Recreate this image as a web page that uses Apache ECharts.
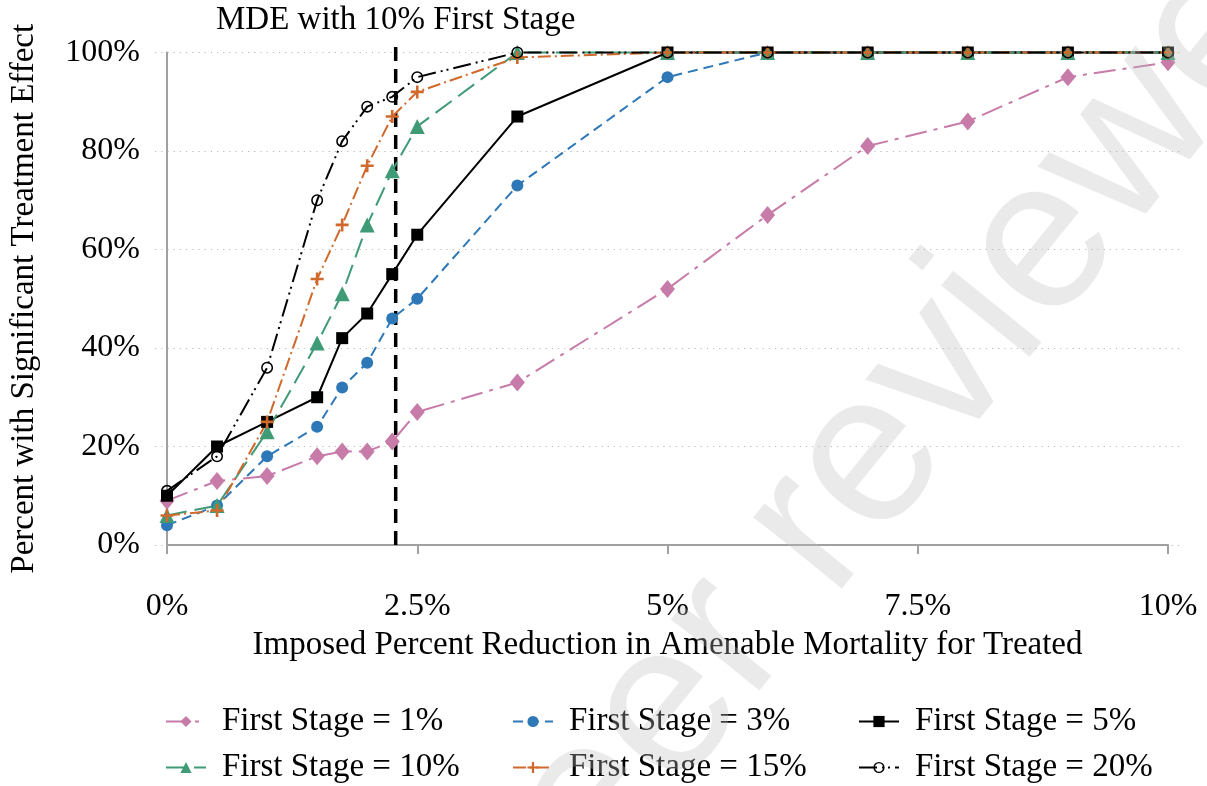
<!DOCTYPE html>
<html>
<head>
<meta charset="utf-8">
<script src="https://cdn.jsdelivr.net/npm/echarts@6/dist/echarts.min.js"></script>
<style>
  html, body { margin: 0; padding: 0; background: #fff; }
  #chart { width: 1207px; height: 786px; }
</style>
</head>
<body>
<div id="chart"></div>
<script>
// Imposed percent reduction in amenable mortality (x values, %)
const reductions = [0, 0.5, 1, 1.5, 1.75, 2, 2.25, 2.5, 3.5, 5, 6, 7, 8, 9, 10];

// Percent of simulations with a significant treatment effect, by first-stage size
const stage1 = [9, 13, 14, 18, 19, 19, 21, 27, 33, 52, 67, 81, 86, 95, 98];
const stage3 = [4, 8, 18, 24, 32, 37, 46, 50, 73, 95, 100, 100, 100, 100, 100];
const stage5 = [10, 20, 25, 30, 42, 47, 55, 63, 87, 100, 100, 100, 100, 100, 100];
const stage10 = [6, 8, 23, 41, 51, 65, 76, 85, 100, 100, 100, 100, 100, 100, 100];
const stage15 = [6, 7, 25, 54, 65, 77, 87, 92, 99, 100, 100, 100, 100, 100, 100];
const stage20 = [11, 18, 36, 70, 82, 89, 91, 95, 100, 100, 100, 100, 100, 100, 100];

const seriesNames = [
  'First Stage = 1%', 'First Stage = 3%', 'First Stage = 5%',
  'First Stage = 10%', 'First Stage = 15%', 'First Stage = 20%'
];

// Minimum detectable effect with a 10% first stage
const mdeValue = 2.3;
const mdeLabel = 'MDE with 10% First Stage';

const yTicks = [0, 20, 40, 60, 80, 100];
const xTicks = [0, 2.5, 5, 7.5, 10];

const FONT = '"Liberation Serif", "Times New Roman", serif';

const pairs = ys => reductions.map((x, i) => [x, ys[i]]);

const plusPath = 'path://M4,0H6V4H10V6H6V10H4V6H0V4H4Z';
const ringPath = 'path://M0,-10A10,10 0 1,1 0,10A10,10 0 1,1 0,-10ZM0,-7.4A7.4,7.4 0 1,0 0,7.4A7.4,7.4 0 1,0 0,-7.4Z';

function lineSeries(name, data, color, dash, symbol, size) {
  return {
    name: name,
    type: 'line',
    xAxisIndex: 1,
    yAxisIndex: 1,
    data: pairs(data),
    symbol: symbol,
    symbolSize: size,
    showSymbol: true,
    clip: false,
    lineStyle: { color: color, width: 2, type: dash },
    itemStyle: { color: color, borderWidth: 0 },
    emphasis: { disabled: true },
    animation: false
  };
}

const series = [
  lineSeries(seriesNames[0], stage1, '#c77ba9', [22, 7, 4, 7], 'diamond', [15, 18]),
  lineSeries(seriesNames[1], stage3, '#2f78b7', [10, 6], 'circle', 12),
  lineSeries(seriesNames[2], stage5, '#000000', 'solid', 'rect', 12),
  lineSeries(seriesNames[3], stage10, '#3f9a76', [20, 8], 'triangle', 15),
  lineSeries(seriesNames[4], stage15, '#d0692b', [13, 4, 2, 4], plusPath, 13),
  lineSeries(seriesNames[5], stage20, '#000000', [18, 5, 2, 4, 2, 5], ringPath, 12),
  // Vertical dashed reference line at the MDE, drawn on a grid whose top
  // sits a little above the plot so the line rises past 100%
  {
    name: 'MDE',
    type: 'line',
    xAxisIndex: 2,
    yAxisIndex: 2,
    data: [
      { value: [mdeValue, 0] },
      {
        value: [mdeValue, 100],
        label: {
          show: true,
          position: 'top',
          distance: 3,
          formatter: mdeLabel,
          color: '#000',
          fontFamily: FONT,
          fontSize: 33
        }
      }
    ],
    symbol: 'circle',
    symbolSize: 0.1,
    showSymbol: true,
    clip: false,
    z: 1,
    lineStyle: { color: '#000', width: 3.5, type: [14, 8] },
    itemStyle: { color: '#000' },
    emphasis: { disabled: true },
    animation: false
  }
];

function legendColumn(names, left) {
  return {
    orient: 'vertical',
    left: left,
    top: 705,
    height: 90,
    padding: 0,
    data: names,
    itemWidth: 40,
    itemHeight: 14,
    itemGap: 13,
    selectedMode: false,
    textStyle: {
      fontFamily: FONT,
      fontSize: 33,
      color: '#000',
      lineHeight: 33,
      padding: [0, 0, 0, 11]
    }
  };
}

const chart = echarts.init(document.getElementById('chart'), null, { renderer: 'canvas' });

chart.setOption({
  backgroundColor: '#ffffff',
  animation: false,
  grid: [
    // background grid that carries the dotted reference lines
    { left: 155, right: 27, top: 52.5, bottom: 241, containLabel: false },
    // data grid
    { left: 165, right: 39, top: 52.5, bottom: 241, containLabel: false },
    // grid for the MDE reference line
    { left: 165, right: 39, top: 40, bottom: 241, containLabel: false }
  ],
  xAxis: [
    { gridIndex: 0, type: 'value', min: -0.1, max: 10.12, show: false },
    {
      gridIndex: 1,
      type: 'value',
      min: xTicks[0],
      max: xTicks[xTicks.length - 1],
      interval: 2.5,
      offset: 19,
      axisLine: { show: true, lineStyle: { color: '#a0a0a0', width: 2 } },
      axisTick: { show: true, inside: false, length: 9, lineStyle: { color: '#a0a0a0', width: 2 } },
      axisLabel: {
        margin: 27,
        fontFamily: FONT,
        fontSize: 32,
        color: '#000',
        formatter: v => v + '%'
      },
      splitLine: { show: false },
      name: 'Imposed Percent Reduction in Amenable Mortality for Treated',
      nameLocation: 'middle',
      nameGap: 65,
      nameTextStyle: { fontFamily: FONT, fontSize: 33, color: '#000' }
    },
    { gridIndex: 2, type: 'value', min: 0, max: 10, show: false }
  ],
  yAxis: [
    {
      gridIndex: 0,
      type: 'value',
      min: yTicks[0],
      max: yTicks[yTicks.length - 1],
      interval: 20,
      axisLine: { show: false },
      axisTick: { show: false },
      axisLabel: { show: false },
      splitLine: { show: true, lineStyle: { color: '#b8b8b8', width: 1.2, type: [1.2, 5] } }
    },
    {
      gridIndex: 1,
      type: 'value',
      min: yTicks[0],
      max: yTicks[yTicks.length - 1],
      interval: 20,
      offset: 18,
      axisLine: { show: true, lineStyle: { color: '#a0a0a0', width: 2 } },
      axisTick: { show: false },
      axisLabel: {
        margin: 9,
        fontFamily: FONT,
        fontSize: 32,
        color: '#000',
        formatter: v => v + '%'
      },
      splitLine: { show: false },
      name: 'Percent with Significant Treatment Effect',
      nameLocation: 'middle',
      nameGap: 108,
      nameRotate: 90,
      nameTextStyle: { fontFamily: FONT, fontSize: 33, color: '#000' }
    },
    { gridIndex: 2, type: 'value', min: 0, max: 100, show: false }
  ],
  legend: [
    legendColumn([seriesNames[0], seriesNames[3]], 165),
    legendColumn([seriesNames[1], seriesNames[4]], 512),
    legendColumn([seriesNames[2], seriesNames[5]], 858)
  ],
  series: series,
  graphic: [
    {
      type: 'text',
      silent: true,
      z: 100,
      x: 230,
      y: 1250,
      rotation: 51 * Math.PI / 180,
      style: {
        text: 'Not peer reviewed',
        font: '215px "Liberation Sans", Arial, sans-serif',
        fill: 'rgba(190,190,190,0.32)',
        align: 'left',
        verticalAlign: 'middle'
      }
    }
  ]
});
</script>
</body>
</html>
